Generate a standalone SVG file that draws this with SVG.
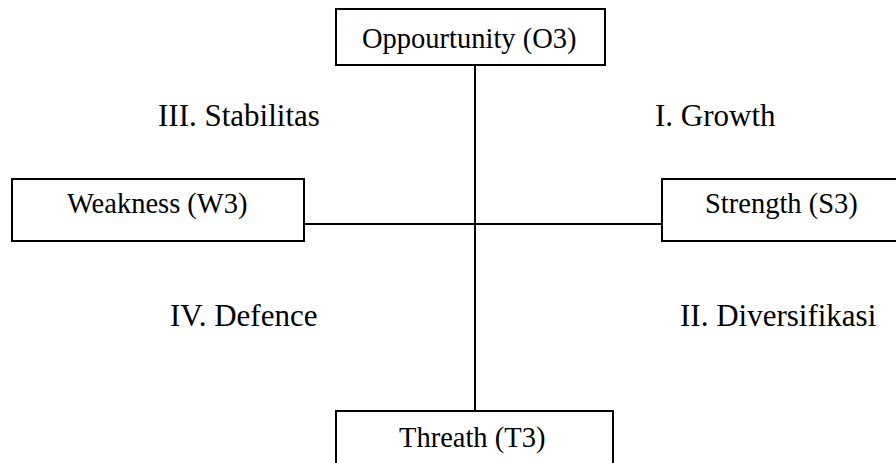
<svg xmlns="http://www.w3.org/2000/svg" width="896" height="463" viewBox="0 0 896 463">
<style>
.box{fill:#fff;stroke:#000;stroke-width:2}
.ln{stroke:#000;stroke-width:2;fill:none}
</style>
<rect width="896" height="463" fill="#fff"/>
<g id="connectors">
<line class="ln" x1="475" y1="65" x2="475" y2="411"/>
<line class="ln" x1="304" y1="224" x2="662" y2="224"/>
</g>
<g font-family="Liberation Serif, DejaVu Serif, serif" fill="#000">
<g id="opportunity">
<rect class="box" x="336" y="9" width="269" height="56"/>
<text font-size="28.5" x="362" y="48">Oppourtunity (O3)</text>
</g>
<g id="weakness">
<rect class="box" x="12" y="179" width="292" height="62"/>
<text font-size="28.5" x="67" y="213">Weakness (W3)</text>
</g>
<g id="strength">
<rect class="box" x="662" y="179" width="250" height="62"/>
<text font-size="28.5" x="705" y="213">Strength (S3)</text>
</g>
<g id="threat">
<rect class="box" x="336" y="411" width="277" height="70"/>
<text font-size="28.5" x="399" y="447">Threath (T3)</text>
</g>
<g id="labels" font-size="31">
<text x="158" y="126">III. Stabilitas</text>
<text x="655" y="126">I. Growth</text>
<text x="170" y="326">IV. Defence</text>
<text x="680" y="326">II. Diversifikasi</text>
</g>
</g>
</svg>
